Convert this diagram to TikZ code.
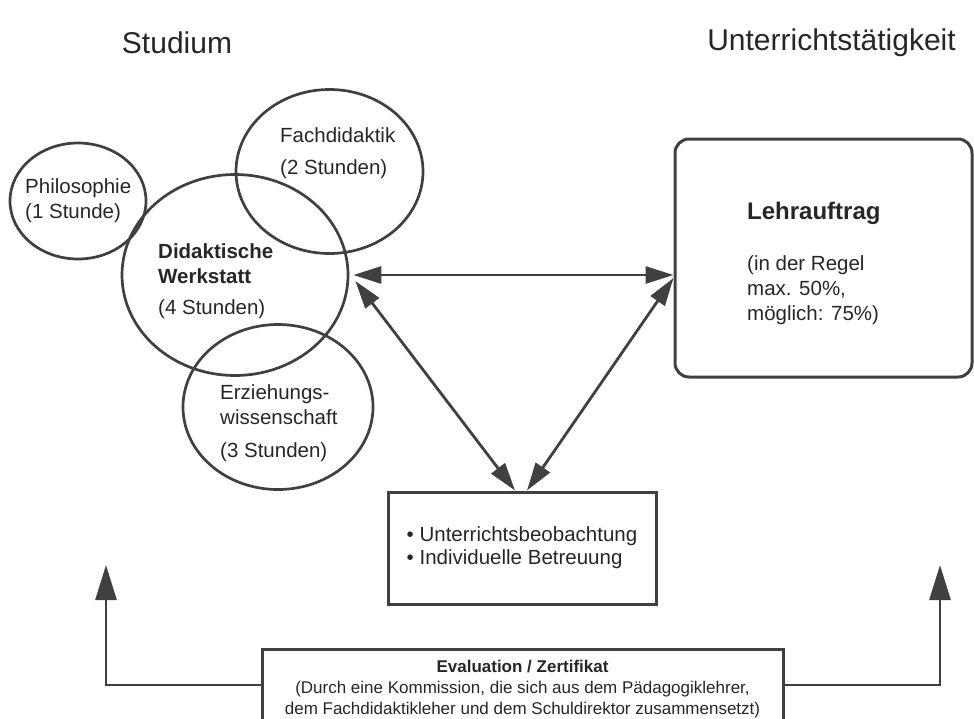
\documentclass[tikz,border=0pt]{standalone}
\usepackage{fontspec}
\setmainfont{Liberation Sans}
\usetikzlibrary{arrows.meta,shapes.geometric}

\begin{document}
\begin{tikzpicture}[x=1pt,y=-1pt,
    circ/.style={draw=black!75, line width=2.7pt, ellipse, inner sep=0pt},
    box/.style={draw=black!75, line width=3pt, inner sep=0pt},
    txt/.style={text=black!85, font=\fontsize{20.5}{25}\selectfont, align=left, inner sep=0pt},
    titel/.style={text=black!85, font=\fontsize{30}{36}\selectfont, inner sep=0pt},
    dbl/.style={draw=black!75, line width=2.8pt, {Triangle[length=28pt,width=17pt]}-{Triangle[length=28pt,width=17pt]}},
    uparrow/.style={draw=black!75, line width=2.8pt, -{Triangle[length=35pt,width=21pt]}}]
    \useasboundingbox (0,0) rectangle (974,718);
    \clip (0,0) rectangle (974,718);
    % Titel
    \node[titel] (studium) at (177,43) {Studium};
    \node[titel] (unterricht) at (831.5,43) {Unterrichtstätigkeit};
    % Studium: Ellipsen
    \node[circ, minimum width=136pt, minimum height=116pt] (philo) at (78,201) {};
    \node[circ, minimum width=226pt, minimum height=201pt] (werk) at (235,275) {};
    \node[circ, minimum width=187pt, minimum height=164pt] (fach) at (329.5,171.5) {};
    \node[circ, minimum width=190pt, minimum height=165pt] (erz) at (278,407) {};
    \node[txt, anchor=west] (philotxt) at (25,201) {Philosophie\\(1 Stunde)};
    \node[txt, anchor=west] (fachtxt) at (280,153) {Fachdidaktik\\[7pt](2 Stunden)};
    \node[txt, anchor=west] (werktxt) at (158,281) {\textbf{Didaktische}\\\textbf{Werkstatt}\\[6pt](4 Stunden)};
    \node[txt, anchor=west] (erztxt) at (220,423) {Erziehungs-\\wissenschaft\\[8pt](3 Stunden)};
    % Unterrichtstaetigkeit
    \node[box, rounded corners=14pt, minimum width=297pt, minimum height=238pt] (lehr) at (823.5,258) {};
    \node[txt, anchor=west] (lehrtxt) at (747,263) {{\fontsize{24}{28}\selectfont\bfseries Lehrauftrag}\\[26pt](in der Regel\\max. 50\%,\\möglich: 75\%)};
    % Betreuung und Evaluation
    \node[box, txt, font=\fontsize{20.5}{23}\selectfont, minimum width=268pt, minimum height=112pt] (mitte) at (522,548) {• Unterrichtsbeobachtung\\• Individuelle Betreuung};
    \node[box, text=black!85, font=\fontsize{17}{21}\selectfont, align=center, minimum width=521pt, minimum height=80pt] (eval) at (522.5,689) {\textbf{Evaluation / Zertifikat}\\(Durch eine Kommission, die sich aus dem Pädagogiklehrer,\\dem Fachdidaktikleher und dem Schuldirektor zusammensetzt)};
    % Pfeile
    \coordinate (lehrL) at (lehr.west |- werk.east);
    \coordinate (studpfeil) at (106,565);
    \coordinate (unterpfeil) at (940,565);
    \draw[dbl] ([xshift=4pt]werk.east) -- (lehrL);
    \draw[dbl] ([shift={(6pt,-6pt)}]werk.east) -- ([xshift=-7pt]mitte.north);
    \draw[dbl] ([yshift=-3pt]lehrL) -- ([xshift=5pt]mitte.north);
    \draw[uparrow] ([yshift=4pt]eval.west) -| (studpfeil);
    \draw[uparrow] ([yshift=4pt]eval.east) -| (unterpfeil);
\end{tikzpicture}
\end{document}
